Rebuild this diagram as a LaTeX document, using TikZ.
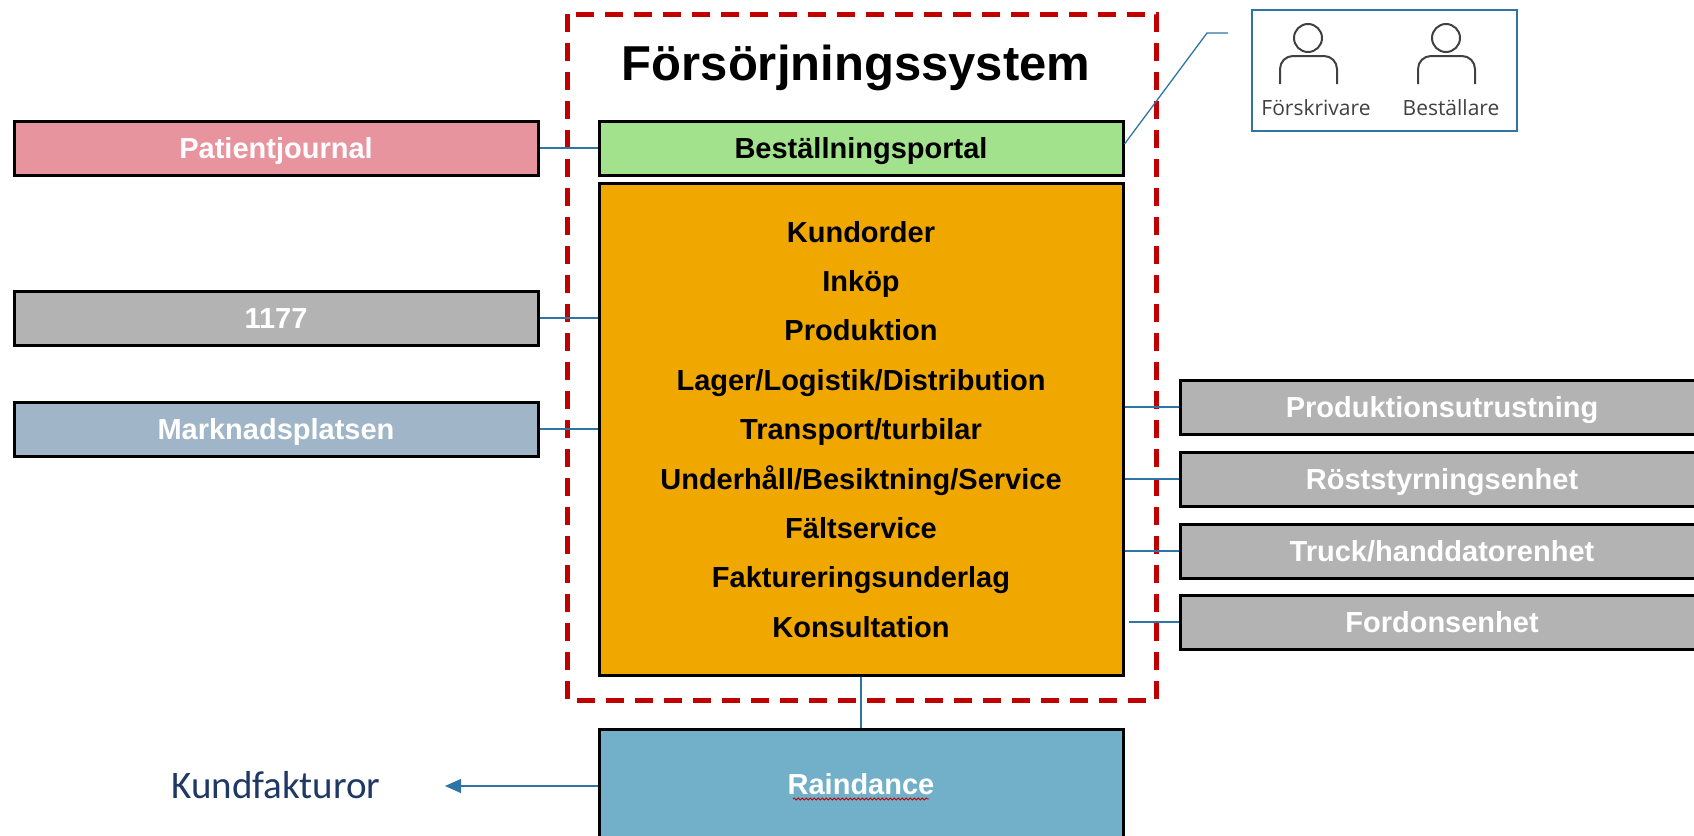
\documentclass[tikz,border=0pt]{standalone}
\usepackage{fontspec}
\setmainfont{Liberation Sans}
\newfontfamily\calfont{Carlito}
\newfontfamily\segfont{Open Sans}
\usetikzlibrary{arrows.meta,decorations.pathmorphing}
\definecolor{pinkc}{HTML}{E8949F}
\definecolor{grayc}{HTML}{B3B3B3}
\definecolor{bluegc}{HTML}{A0B6C8}
\definecolor{greenc}{HTML}{A3E28C}
\definecolor{orangec}{HTML}{F0A800}
\definecolor{rainc}{HTML}{71B0C8}
\definecolor{linkc}{HTML}{2E75A6}
\definecolor{redc}{HTML}{C00000}
\definecolor{navyc}{HTML}{1F3864}
\definecolor{iconc}{HTML}{404040}
\begin{document}
\begin{tikzpicture}[x=1pt,y=-1pt,
  box/.style={draw=black, line width=3pt, inner sep=0pt, minimum width=524pt, minimum height=54pt,
    font=\fontsize{29}{29}\selectfont\bfseries, text=white, text height=20.8pt, text depth=0pt},
  item/.style={anchor=base, inner sep=0pt, font=\fontsize{29}{29}\selectfont\bfseries, text=black},
  conn/.style={draw=linkc, line width=1.3pt},
  person/.style={draw=iconc, line width=2pt},
  plabel/.style={anchor=base, inner sep=0pt, font=\segfont\fontsize{21}{21}\selectfont, text=iconc},
]
\useasboundingbox (0,0) rectangle (1694,835);
\clip (0,0) rectangle (1694,835);

% dashed system frame
\draw[redc, line width=5pt, dash pattern=on 18pt off 11pt] (567,14) rectangle (1156,700);
\node[anchor=base, inner sep=0pt, font=\fontsize{49}{49}\selectfont\bfseries] (title) at (856,80) {Försörjningssystem};

% central boxes
\node[box, fill=greenc, text=black] (portal) at (861,148) {Beställningsportal};
\node[box, fill=orangec, minimum height=492pt] (core) at (861,429) {};
\foreach \t [count=\i from 0] in {Kundorder,Inköp,Produktion,Lager/Logistik/Distribution,Transport/turbilar,Underhåll/Besiktning/Service,Fältservice,Faktureringsunderlag,Konsultation}
  \node[item] (it\i) at (861,242+49.4*\i) {\t};
\node[box, fill=rainc, minimum height=110pt] (rain) at (861,784) {Raindance};
\draw[redc, line width=0.8pt, decorate, decoration={snake, amplitude=1pt, segment length=4pt}]
  ([yshift=-15pt,xshift=-68pt]rain.center) coordinate (wv1) -- ([yshift=-15pt,xshift=68pt]rain.center) coordinate (wv2);

% left boxes
\node[box, fill=pinkc] (pj) at (276,148) {Patientjournal};
\node[box, fill=grayc] (b1177) at (276,318) {1177};
\node[box, fill=bluegc] (mp) at (276,429) {Marknadsplatsen};

% right boxes
\node[box, fill=grayc] (r1) at (1442,407) {Produktionsutrustning};
\node[box, fill=grayc] (r2) at (1442,479) {Röststyrningsenhet};
\node[box, fill=grayc] (r3) at (1442,551) {Truck/handdatorenhet};
\node[box, fill=grayc] (r4) at (1442,622) {Fordonsenhet};

% connectors
\draw[conn] (pj.east) -- (portal.west);
\draw[conn] (b1177.east) -- (b1177.east -| core.west);
\draw[conn] (mp.east) -- (mp.east -| core.west);
\foreach \r in {r1,r2,r3}
  \draw[conn] (\r.west -| core.east) -- (\r.west);
\draw[conn] ([xshift=4pt]r4.west -| core.east) -- (r4.west);
\draw[conn] (core.south) -- (rain.north);

% invoices
\node[inner sep=0pt, font=\calfont\fontsize{39}{39}\selectfont, text=navyc] (kund) at (276,785) {Kundfakturor};
\coordinate (kt) at (445,786);
\draw[conn, -{Triangle[length=16pt,width=14pt]}] (rain.west |- kt) -- (kt);

% actors
\node[draw=linkc, line width=1.5pt, minimum width=265pt, minimum height=121pt, inner sep=0pt] (actors) at (1384.5,70.5) {};
\coordinate (c1) at (1207,33);
\coordinate (c2) at (1228,33);
\draw[conn] ([yshift=4pt]portal.east) -- (c1) -- (c2);
\node[person, circle, minimum size=28pt, inner sep=0pt] (h1) at (1308,38) {};
\draw[person, rounded corners=13pt] (1280,84) -- (1280,56) -- (1337,56) -- (1337,84);
\node[person, circle, minimum size=28pt, inner sep=0pt] (h2) at (1446,38) {};
\draw[person, rounded corners=13pt] (1418,84) -- (1418,56) -- (1475,56) -- (1475,84);
\node[plabel] (l1) at (1316,115) {Förskrivare};
\node[plabel] (l2) at (1451,115) {Beställare};
\end{tikzpicture}
\end{document}
